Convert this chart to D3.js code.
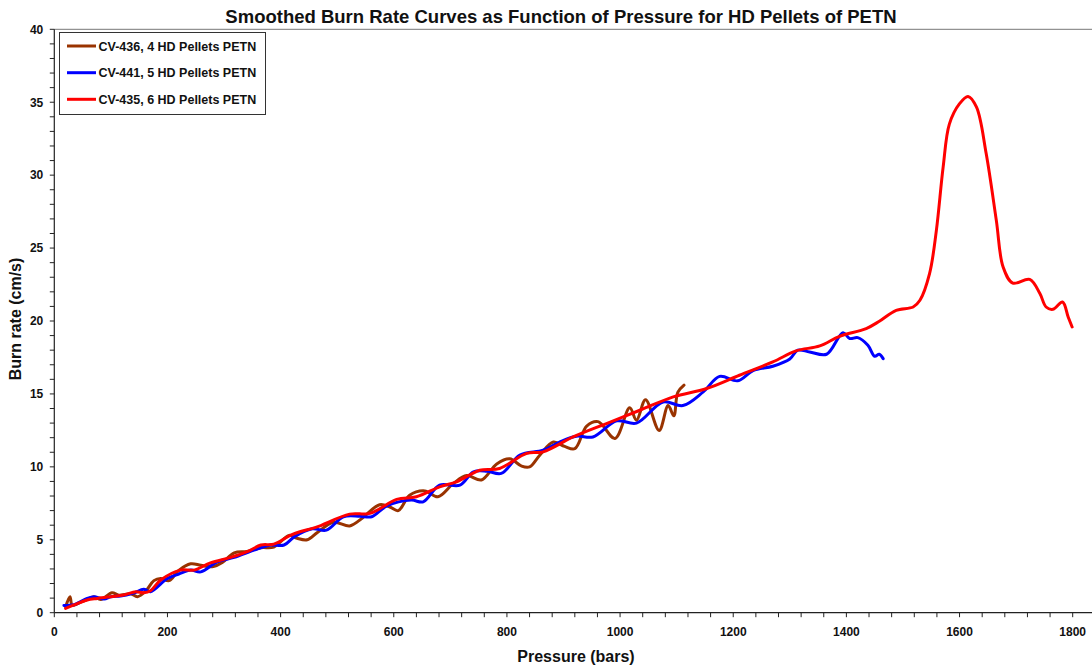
<!DOCTYPE html>
<html>
<head>
<meta charset="utf-8">
<script src="https://cdn.jsdelivr.net/npm/d3@7"></script>
<style>
  html, body { margin: 0; padding: 0; background: #fff; }
  svg { display: block; font-family: "Liberation Sans", Arial, sans-serif; }
</style>
</head>
<body>
<svg id="chart" width="1092" height="666"></svg>
<script>
// ---- Data ----
const seriesNames = ["CV-436, 4 HD Pellets PETN", "CV-441, 5 HD Pellets PETN", "CV-435, 6 HD Pellets PETN"];
const seriesColors = ["#993300", "#0000ff", "#ff0000"];

const cv436Pressure = [20, 27.7, 31.8, 45, 58, 70, 82, 102, 114, 135, 147, 162, 176, 188, 203, 220, 241, 259, 279, 297, 318, 341, 365, 388, 415, 429, 447, 465, 493, 522, 540, 575, 593, 608, 628, 655, 678, 705, 729, 755, 782, 805, 826, 840, 858, 882, 902, 920, 941, 961, 991, 1017, 1029, 1045, 1069, 1085, 1095, 1102, 1113];
const cv436Rate = [0.4, 1.1, 0.5, 0.7, 0.9, 1.1, 0.9, 1.37, 1.2, 1.3, 1.1, 1.5, 2.2, 2.35, 2.2, 2.9, 3.35, 3.25, 3.15, 3.45, 4.1, 4.2, 4.45, 4.5, 5.3, 5.1, 5.0, 5.5, 6.2, 5.95, 6.35, 7.4, 7.25, 7.0, 8.05, 8.35, 7.95, 8.85, 9.4, 9.1, 10.2, 10.55, 10.05, 10.0, 10.8, 11.7, 11.4, 11.25, 12.8, 13.1, 11.95, 14.05, 13.2, 14.6, 12.5, 14.2, 13.5, 15.1, 15.6];

const cv441Pressure = [17, 35, 58, 70, 88, 100, 117, 140, 158, 170, 200, 220, 241, 259, 288, 318, 353, 382, 406, 424, 456, 481, 511, 540, 561, 587, 631, 652, 681, 717, 741, 765, 790, 823, 864, 893, 923, 952, 994, 1029, 1076, 1111, 1147, 1176, 1208, 1235, 1270, 1300, 1314, 1335, 1365, 1394, 1406, 1420, 1438, 1450, 1458, 1465];
const cv441Rate = [0.5, 0.55, 0.98, 1.1, 0.94, 1.1, 1.14, 1.35, 1.6, 1.44, 2.35, 2.65, 2.92, 2.8, 3.49, 3.79, 4.29, 4.64, 4.64, 5.2, 5.75, 5.66, 6.58, 6.62, 6.58, 7.3, 7.72, 7.6, 8.75, 8.75, 9.66, 9.7, 9.55, 10.8, 11.14, 11.7, 12.1, 12.05, 13.15, 13.0, 14.45, 14.2, 15.14, 16.2, 15.9, 16.6, 16.9, 17.4, 18.0, 17.88, 17.72, 19.2, 18.8, 18.86, 18.34, 17.58, 17.72, 17.42];

const cv435Pressure = [20, 35, 58, 76, 100, 123, 144, 158, 170, 188, 223, 247, 276, 312, 341, 365, 388, 418, 434, 462, 522, 558, 605, 640, 681, 711, 752, 787, 835, 864, 917, 976, 1035, 1094, 1153, 1211, 1270, 1311, 1353, 1388, 1435, 1459, 1488, 1518, 1530, 1547, 1559, 1571, 1582, 1600, 1615, 1630, 1647, 1665, 1677, 1694, 1724, 1742, 1753, 1765, 1782, 1792, 1799];
const cv435Rate = [0.3, 0.53, 0.87, 0.98, 1.1, 1.21, 1.44, 1.37, 1.51, 2.24, 2.92, 2.92, 3.42, 3.79, 4.18, 4.64, 4.7, 5.32, 5.55, 5.85, 6.76, 6.81, 7.77, 7.95, 8.63, 8.97, 9.77, 9.89, 10.92, 11.03, 12.05, 12.97, 13.88, 14.8, 15.37, 16.28, 17.19, 17.95, 18.29, 18.95, 19.48, 20.0, 20.73, 20.96, 21.42, 23.25, 26.2, 30.55, 33.5, 34.9, 35.4, 34.66, 31.5, 26.9, 23.7, 22.6, 22.85, 21.88, 20.96, 20.8, 21.3, 20.27, 19.59];

const xTicks = [0, 200, 400, 600, 800, 1000, 1200, 1400, 1600, 1800];
const yTicks = [0, 5, 10, 15, 20, 25, 30, 35, 40];

const titleText = "Smoothed Burn Rate Curves as Function of Pressure for HD Pellets of PETN";
const xTitle = "Pressure (bars)";
const yTitle = "Burn rate (cm/s)";

// ---- Layout ----
const svg = d3.select("#chart");
const x0 = 54.3, x1800 = 1072.7;
const x = d3.scaleLinear().domain([0, 1800]).range([x0, x1800]);
const y = d3.scaleLinear().domain([0, 40]).range([612.7, 29.3]);
const xEnd = 1092;

const axisColor = "#222";

// top frame line
svg.append("line").attr("x1", x0).attr("x2", xEnd).attr("y1", y(40)).attr("y2", y(40))
  .attr("stroke", "#777").attr("stroke-width", 1);

// X axis
const xAxisG = svg.append("g").attr("transform", `translate(0,${y(0)})`);
xAxisG.append("line").attr("x1", x0).attr("x2", xEnd).attr("stroke", axisColor).attr("stroke-width", 1.2);
const xMinor = d3.range(0, 1860, 40);
xAxisG.selectAll("line.minor").data(xMinor).join("line").attr("class", "minor")
  .attr("x1", d => x(d)).attr("x2", d => x(d)).attr("y1", 0).attr("y2", 4.5)
  .attr("stroke", axisColor).attr("stroke-width", 1);
xAxisG.selectAll("text").data(xTicks).join("text")
  .attr("x", d => x(d)).attr("y", 23).attr("text-anchor", "middle")
  .attr("font-size", "12px").attr("font-weight", "bold").attr("fill", "#111")
  .text(d => d);

// Y axis
const yAxisG = svg.append("g").attr("transform", `translate(${x0},0)`);
yAxisG.append("line").attr("y1", y(0)).attr("y2", y(40)).attr("stroke", axisColor).attr("stroke-width", 1.2);
const yMinor = d3.range(0, 41, 1);
yAxisG.selectAll("line.minor").data(yMinor).join("line").attr("class", "minor")
  .attr("y1", d => y(d)).attr("y2", d => y(d)).attr("x1", -4.5).attr("x2", 0)
  .attr("stroke", axisColor).attr("stroke-width", 1);
yAxisG.selectAll("text").data(yTicks).join("text")
  .attr("x", -11).attr("y", d => y(d)).attr("dy", "0.36em").attr("text-anchor", "end")
  .attr("font-size", "12px").attr("font-weight", "bold").attr("fill", "#111")
  .text(d => d);

// Titles
svg.append("text").attr("x", 561).attr("y", 23).attr("text-anchor", "middle")
  .attr("font-size", "18.5px").attr("font-weight", "bold").attr("fill", "#111").text(titleText);
svg.append("text").attr("x", 576).attr("y", 662).attr("text-anchor", "middle")
  .attr("font-size", "16px").attr("font-weight", "bold").attr("fill", "#111").text(xTitle);
svg.append("text").attr("transform", "translate(21,319) rotate(-90)").attr("text-anchor", "middle")
  .attr("font-size", "16px").attr("font-weight", "bold").attr("fill", "#111").text(yTitle);

// Lines
const series = [
  { p: cv436Pressure, r: cv436Rate },
  { p: cv441Pressure, r: cv441Rate },
  { p: cv435Pressure, r: cv435Rate }
];
const line = d3.line().x(d => x(d[0])).y(d => y(d[1])).curve(d3.curveCatmullRom.alpha(0.5));
series.forEach((s, i) => {
  const pts = s.p.map((v, k) => [v, s.r[k]]);
  svg.append("path").datum(pts).attr("d", line)
    .attr("fill", "none").attr("stroke", seriesColors[i]).attr("stroke-width", 3)
    .attr("stroke-linejoin", "round").attr("stroke-linecap", "round");
});

// Legend
const lg = svg.append("g");
lg.append("rect").attr("x", 59.5).attr("y", 32.5).attr("width", 206).attr("height", 82)
  .attr("fill", "#fff").attr("stroke", "#333").attr("stroke-width", 1);
const legendY = [46, 72.7, 99.3];
seriesNames.forEach((n, i) => {
  lg.append("line").attr("x1", 67).attr("x2", 96).attr("y1", legendY[i]).attr("y2", legendY[i])
    .attr("stroke", seriesColors[i]).attr("stroke-width", 3);
  lg.append("text").attr("x", 98.5).attr("y", legendY[i]).attr("dy", "0.36em")
    .attr("font-size", "12.5px").attr("font-weight", "bold").attr("fill", "#111").text(n);
});
</script>
</body>
</html>
